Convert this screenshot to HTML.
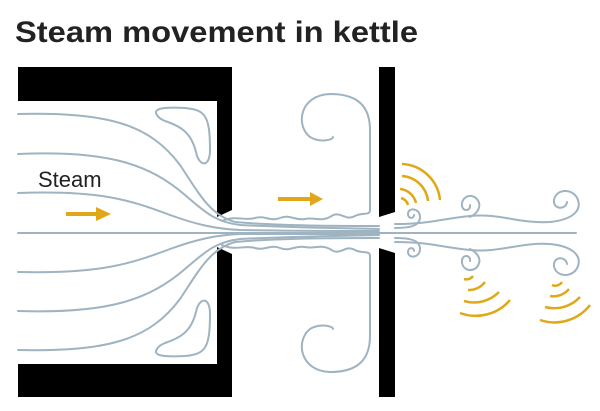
<!DOCTYPE html>
<html><head><style>body{margin:0;background:#fff}svg{display:block}</style></head>
<body>
<svg width="600" height="411" viewBox="0 0 600 411" xmlns="http://www.w3.org/2000/svg">
<text x="15" y="42" font-family="Liberation Sans, sans-serif" font-weight="bold" font-size="30" fill="#222" textLength="403" lengthAdjust="spacingAndGlyphs">Steam movement in kettle</text>
<path d="M18 67 H232 V210 L217 217 V101 H18 Z" fill="#000"/>
<path d="M18 397 H232 V254 L217 247 V364 H18 Z" fill="#000"/>
<path d="M379 67 H395 V212 L379 217 Z" fill="#000"/>
<path d="M379 397 H395 V253 L379 248 Z" fill="#000"/>
<g fill="none" stroke="#9fb3c0" stroke-width="2" stroke-linecap="round">
<line x1="18" y1="233" x2="576" y2="233"/>
<path d="M18 114 C110 112 150 125 180 165 C200 195 210 215 235 222 C280 226 340 226 379 226"/>
<path d="M18 154 C110 150 150 165 185 195 C205 212 215 222 240 225 C300 228 340 228 379 229"/>
<path d="M18 193 C100 190 130 200 170 215 C195 224 215 229 240 230 C300 231 350 231 379 231"/>
<path d="M18 350 C110 352 150 339 180 299 C200 269 210 249 235 242 C280 238 340 238 379 238"/>
<path d="M18 311 C110 314 150 299 185 269 C205 252 215 242 240 239 C300 236 340 236 379 235"/>
<path d="M18 272 C100 274 130 264 170 249 C195 240 215 235 240 234 C300 234 350 234 379 234"/>
<path d="M157 115 C152 108 165 107 185 108 C205 110 210 115 210 150 C210 168 199 167 196 152 C191 132 180 126 165 121 C160 119 158 117 157 115 Z"/>
<path d="M157 349 C152 356 165 357 185 356 C205 354 210 349 210 314 C210 296 199 297 196 312 C191 332 180 338 165 343 C160 345 158 347 157 349 Z"/>
<path d="M222 221 C235 215 245 221 255 218 C265 215 270 222 280 218 C290 214 295 221 305 219 C315 217 320 222 330 217 C340 209 345 222 355 216 C362 212 370 216 370 210 V130 C370 100 350 94 330 94 C300 95 295 125 310 137 C320 143 333 140 333 137"/>
<path d="M222 245 C235 251 245 245 255 248 C265 251 270 244 280 248 C290 252 295 245 305 247 C315 249 320 244 330 249 C340 257 345 244 355 250 C362 254 370 250 370 256 V336 C370 366 350 372 330 372 C300 371 295 341 310 329 C320 323 333 326 333 329"/>
<path d="M395 224 C430 224 440 219 470 216 C500 213 520 224 550 222 C570 220 582 212 578 200 C574 188 556 188 554 200 C553 210 566 210 567 202"/>
<path d="M395 242 C430 242 440 247 470 250 C500 253 520 242 550 244 C570 246 582 254 578 266 C574 278 556 278 554 266 C553 256 566 256 567 264"/>
<path d="M395 228 C410 228 420 226 420 217 C420 208 408 207 408 214 C408 219 414 219 414 215"/>
<path d="M395 238 C410 238 420 240 420 249 C420 258 408 259 408 252 C408 247 414 247 414 251"/>
<path d="M470 217 C480 212 482 204 476 198 C469 193 461 198 462 206 C463 212 471 211 470 205"/>
<path d="M470 249 C480 254 482 262 476 268 C469 273 461 268 462 260 C463 254 471 255 470 261"/>
</g>
<text x="38" y="187" font-family="Liberation Sans, sans-serif" font-size="22" fill="#222">Steam</text>
<g fill="#e0a818" stroke="#e0a818">
<line x1="66" y1="214" x2="98" y2="214" stroke-width="4"/>
<path d="M96 207 L111 214 L96 221 Z" stroke="none"/>
<line x1="278" y1="199" x2="312" y2="199" stroke-width="4"/>
<path d="M310 192 L323 199 L310 206 Z" stroke="none"/>
</g>
<g fill="none" stroke="#e0a818" stroke-width="2.5">
<path d="M402 164 A40 40 0 0 1 440 200"/>
<path d="M402 176 A28 28 0 0 1 428 201"/>
<path d="M400 189 A18 18 0 0 1 416 203"/>
<path d="M401 198 A10 10 0 0 1 408 205"/>
<path d="M464 279 A8 8 0 0 0 473 276"/>
<path d="M468 290 A20 20 0 0 0 485 282"/>
<path d="M464 301 A35 35 0 0 0 499 292"/>
<path d="M460 313 A45 45 0 0 0 510 300"/>
<path d="M552 285 A8 8 0 0 0 562 282"/>
<path d="M550 296 A20 20 0 0 0 569 289"/>
<path d="M545 307 A35 35 0 0 0 580 297"/>
<path d="M540 320 A45 45 0 0 0 590 305"/>
</g>
</svg>
</body></html>
